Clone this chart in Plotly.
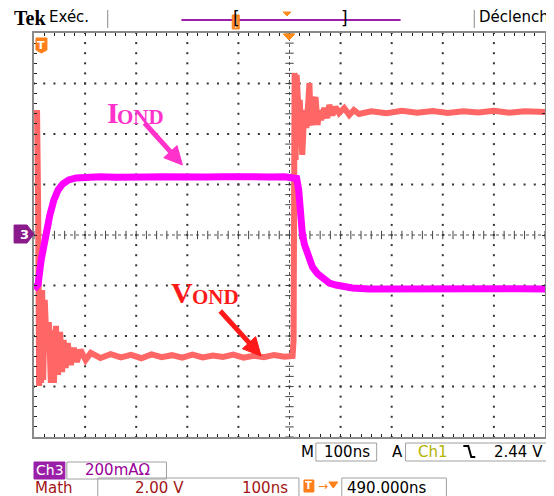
import math
import plotly.graph_objects as go

CH3_MA_PER_DIV = 200.0     # Ch3 : 200 mA/div
MATH_V_PER_DIV = 2.0       # Math: 2.00 V/div
NS_PER_DIV = 100.0         # 100 ns/div

# Ch3 : I_OND (mA)
t_I_ns = [0, 8, 14, 20, 25, 31, 39, 47, 56, 68, 82, 101, 130,
          160, 190, 220, 250, 280, 310, 340, 370, 400, 430, 460, 490,
          510, 514, 518, 521, 525, 529, 533, 539, 545, 555, 564, 578, 591, 623, 656,
          700, 750, 800, 850, 900, 950, 1000]
I_mA = [-214, -196, -99, -32, 12, 79, 139, 178, 202, 218, 226, 230, 231,
        229, 232, 230, 231, 229, 232, 230, 231, 229, 231, 230, 231,
        230, 224, 178, 91, 8, -36, -59, -91, -127, -154, -166, -190, -198, -210, -214,
        -213, -215, -213, -214, -215, -213, -214]

# Math : V_OND (V)
t_V_ns = [0, 6, 8, 10, 12, 14, 16, 18, 21, 25,
          29, 33, 37, 39, 43, 47, 51, 55, 58, 62,
          66, 72, 78, 84, 91, 101, 111, 130, 150, 170,
          190, 210, 230, 250, 270, 290, 310, 330, 350, 370,
          390, 410, 430, 450, 470, 490, 506, 508, 510, 512,
          514, 518, 520, 523, 525, 529, 533, 537, 539, 541,
          545, 549, 551, 555, 558, 562, 568, 574, 578, 584,
          590, 597, 607, 617, 626, 636, 660, 690, 720, 750,
          780, 810, 840, 870, 900, 930, 960, 1000]
V_V = [4.83, 4.83, 1.39, -5.98, -2.57, -5.86, -2.18, -5.74, -2.57, -4.55,
       -3.45, -5.86, -3.76, -5.86, -3.60, -5.54, -3.84, -5.43, -4.16, -5.27,
       -4.28, -5.15, -4.47, -5.03, -4.55, -4.95, -4.67, -4.87, -4.72, -4.85,
       -4.75, -4.88, -4.73, -4.84, -4.76, -4.86, -4.74, -4.85, -4.77, -4.83,
       -4.74, -4.86, -4.78, -4.84, -4.75, -4.82, -4.79, -4.16, 6.42, 2.97,
       6.34, 4.75, 5.35, 3.37, 3.17, 4.95, 4.24, 5.35, 6.02, 4.55,
       4.36, 5.35, 5.46, 4.36, 4.95, 4.55, 5.03, 4.63, 5.15, 4.75,
       5.07, 4.83, 5.03, 4.75, 4.95, 4.79, 4.90, 4.82, 4.92, 4.84,
       4.91, 4.83, 4.90, 4.85, 4.92, 4.84, 4.90, 4.87]

# screen readouts
timebase_label = "100ns"
trig_source = "Ch1"
trig_level = "2.44 V"
ch3_scale_label = "200mA\u03a9"
math_scale_label = "2.00 V"
math_time_label = "100ns"
trig_pos_label = "490.000ns"

# ---------------- layout geometry ----------------
PAGE_OFF = 8                            # default page margin of the html body
W, H = 554, 496                         # window size
L, R, T, B = 34, 547, 33, 437           # plot frame in window pixels
PW, PH = R - L, B - T


def px(x):
    return (x - L) / PW


def py(y):
    return (B - y) / PH


XDIV, YDIV = 10, 8
x_max = XDIV * NS_PER_DIV

fig = go.Figure()
annots = []
shapes = []

# ---------------- graticule ----------------
gx, gy = [], []
for k in range(1, XDIV):
    if k == XDIV // 2:
        continue
    for m in range(0, YDIV * 5 + 1):
        gx.append(k * NS_PER_DIV)
        gy.append(-YDIV / 2 + m * 0.2)
for j in range(1, YDIV):
    yv = -YDIV / 2 + j
    if yv == 0:
        continue
    for m in range(0, XDIV * 5 + 1):
        gx.append(m * NS_PER_DIV / 5)
        gy.append(yv)
fig.add_trace(go.Scatter(x=gx, y=gy, mode="markers", hoverinfo="skip",
                         marker=dict(symbol="square", size=2, color="#333333"),
                         showlegend=False))
# center cross lines with minor ticks
cx = [m * NS_PER_DIV / 5 for m in range(0, XDIV * 5 + 1)]
fig.add_trace(go.Scatter(x=cx, y=[0] * len(cx), mode="markers", hoverinfo="skip",
                         marker=dict(symbol="line-ns", size=6,
                                     line=dict(width=1, color="#444444")),
                         showlegend=False))
cy = [-YDIV / 2 + m * 0.2 for m in range(0, YDIV * 5 + 1)]
fig.add_trace(go.Scatter(x=[x_max / 2] * len(cy), y=cy, mode="markers", hoverinfo="skip",
                         marker=dict(symbol="line-ew", size=6,
                                     line=dict(width=1, color="#444444")),
                         showlegend=False))
shapes.append(dict(type="line", x0=0, x1=x_max, y0=0, y1=0, xref="x", yref="y",
                   line=dict(color="#555555", width=1, dash="dot"), layer="below"))
shapes.append(dict(type="line", x0=x_max / 2, x1=x_max / 2, y0=-YDIV / 2, y1=YDIV / 2,
                   xref="x", yref="y", line=dict(color="#555555", width=1, dash="dot"),
                   layer="below"))

# ---------------- waveforms ----------------
fig.add_trace(go.Scatter(x=t_V_ns, y=[v / MATH_V_PER_DIV for v in V_V], mode="lines",
                         line=dict(color="#ff6666", width=6), hoverinfo="skip",
                         showlegend=False))
fig.add_trace(go.Scatter(x=t_I_ns, y=[i / CH3_MA_PER_DIV for i in I_mA], mode="lines",
                         line=dict(color="#ff00ff", width=7), hoverinfo="skip",
                         showlegend=False))

SANS = "DejaVu Sans"


def txt(x, y, s, color="black", size=15, anchor="left", family=SANS, bold=False,
        h=None):
    a = dict(x=px(x), y=py(y), xref="paper", yref="paper",
             text=("<b>%s</b>" % s) if bold else s, showarrow=False,
             xanchor=anchor, yanchor="middle", borderpad=0,
             font=dict(family=family, size=size, color=color))
    if h is not None:
        a["height"] = h
    annots.append(a)


def rect(x0, y0, x1, y1, line="#a0a0a0", fill=None, w=1):
    shapes.append(dict(type="rect", xref="paper", yref="paper",
                       x0=px(x0), x1=px(x1), y0=py(y0), y1=py(y1),
                       line=dict(color=line, width=w),
                       fillcolor=fill if fill else "rgba(0,0,0,0)"))


def seg(x0, y0, x1, y1, color, w=1):
    shapes.append(dict(type="line", xref="paper", yref="paper",
                       x0=px(x0), x1=px(x1), y0=py(y0), y1=py(y1),
                       line=dict(color=color, width=w)))


def poly(pts, fill, line=None):
    d = "M " + " L ".join("%f,%f" % (px(a), py(b)) for a, b in pts) + " Z"
    shapes.append(dict(type="path", xref="paper", yref="paper", path=d,
                       fillcolor=fill, line=dict(color=line or fill, width=1)))


def arrow(x0, y0, x1, y1, color, w=5, head=18, half=9):
    dx, dy = x1 - x0, y1 - y0
    n = math.hypot(dx, dy)
    ux, uy = dx / n, dy / n
    bx, by = x1 - head * ux, y1 - head * uy
    seg(x0, y0, bx + 2 * ux, by + 2 * uy, color, w)
    poly([(x1, y1), (bx - half * uy, by + half * ux), (bx + half * uy, by - half * ux)],
         color)


# ---------------- labels on the traces ----------------
SERIF = "Liberation Serif"
txt(106, 113, "I", size=30, family=SERIF, color="#ff33cc", bold=True)
txt(116, 117, "OND", size=21, family=SERIF, color="#ff33cc", bold=True)
arrow(145, 123, 183, 165, "#ff33cc")
txt(171, 292, "V", size=30, family=SERIF, color="#ff1a1a", bold=True)
txt(192, 297, "OND", size=21, family=SERIF, color="#ff1a1a", bold=True)
arrow(221, 311, 262, 356, "#ff1a1a")

# top bar
txt(13, 18, "Tek", size=20, family=SERIF, bold=True)
txt(48, 17, "Ex\u00e9c.", size=15)
txt(480, 17, "D\u00e9clench", size=15)
txt(237, 18, "[", size=17, anchor="center")
txt(346, 18, "]", size=17, anchor="center")

# bottom readouts
txt(301, 452, "M", size=15, h=16)
txt(348, 452, timebase_label, size=15, anchor="center", h=16)
txt(392, 452, "A", size=15, h=16)
txt(419, 452, trig_source, size=15, color="#b3b300", h=16)
txt(546, 452, trig_level, size=15, anchor="right", h=16)
txt(50, 470, "Ch3", size=14, color="white", anchor="center", h=14)
txt(118, 470, ch3_scale_label, size=15, color="#9a009a", anchor="center", h=14)
txt(34, 488, "Math", size=15, color="#a31515", h=14)
txt(160, 488, math_scale_label, size=15, color="#a31515", anchor="center", h=14)
txt(266, 488, math_time_label, size=15, color="#a31515", anchor="center", h=14)
txt(347, 488, trig_pos_label, size=15, h=14)
txt(310, 486, "T", size=10, color="white", anchor="center", bold=True, h=11)
txt(324, 486, "\u2192", size=12, color="#ff7f1a", anchor="center", h=11)
txt(41, 45, "T", size=11, color="white", anchor="center", bold=True)
txt(24, 234, "3", size=13, color="white", anchor="center", bold=True)

# ---------------- decorations ----------------
# top bar
seg(108, 10, 108, 28, "#8a8a8a", 1)
seg(476, 10, 476, 28, "#8a8a8a", 1)
seg(182, 20, 402, 20, "#9a1fa8", 2)
rect(233, 15, 240, 29, line="#ff7f1a", fill="#ff8c2a", w=1)
seg(236.5, 18, 236.5, 28, "white", 1)
poly([(284, 12), (292, 12), (288, 16)], "#ff8c1a")
poly([(284, 34), (296, 34), (290, 40)], "#ff8c1a")
# T marker in graticule
poly([(36, 38), (47, 38), (47, 50), (41.5, 53), (36, 50)], "#ff7f1a")
# channel 3 ground marker
poly([(14, 225), (27, 225), (34, 234), (27, 243), (14, 243)], "#8b1a8b")

# bottom boxes
rect(317, 443, 378, 461)
rect(407, 443, 549, 461)
shapes.append(dict(type="path", xref="paper", yref="paper",
                   path="M %f,%f L %f,%f L %f,%f L %f,%f" % (
                       px(465), py(446), px(470), py(446), px(473), py(457), px(477), py(457)),
                   line=dict(color="black", width=2)))
rect(34, 462, 65, 479, line="#9a1fa8", fill="#9a1fa8")
rect(67, 462, 167, 479)
rect(98, 478, 300, 497)
rect(305, 480, 315, 492, line="#ff7f1a", fill="#ff7f1a")
poly([(330, 482), (339, 482), (334.5, 488)], "#ff7f1a")
rect(343, 478, 448, 497)

fig.update_layout(
    width=W - PAGE_OFF, height=H - PAGE_OFF,
    margin=dict(l=L - PAGE_OFF, r=W - R, t=T - PAGE_OFF, b=H - B, pad=0),
    paper_bgcolor="white", plot_bgcolor="white",
    showlegend=False,
    annotations=annots,
    shapes=shapes,
    xaxis=dict(range=[0, x_max], showgrid=False, zeroline=False,
               showticklabels=False, ticks="inside", tick0=0,
               dtick=NS_PER_DIV / 5, ticklen=3, tickcolor="#222222",
               showline=True, linecolor="#8a8a8a", linewidth=2, mirror="ticks",
               fixedrange=True),
    yaxis=dict(range=[-YDIV / 2, YDIV / 2], showgrid=False, zeroline=False,
               showticklabels=False, ticks="inside", tick0=0, dtick=0.2,
               ticklen=3, tickcolor="#222222",
               showline=True, linecolor="#8a8a8a", linewidth=2, mirror="ticks",
               fixedrange=True),
)

fig.write_html("out.html")
